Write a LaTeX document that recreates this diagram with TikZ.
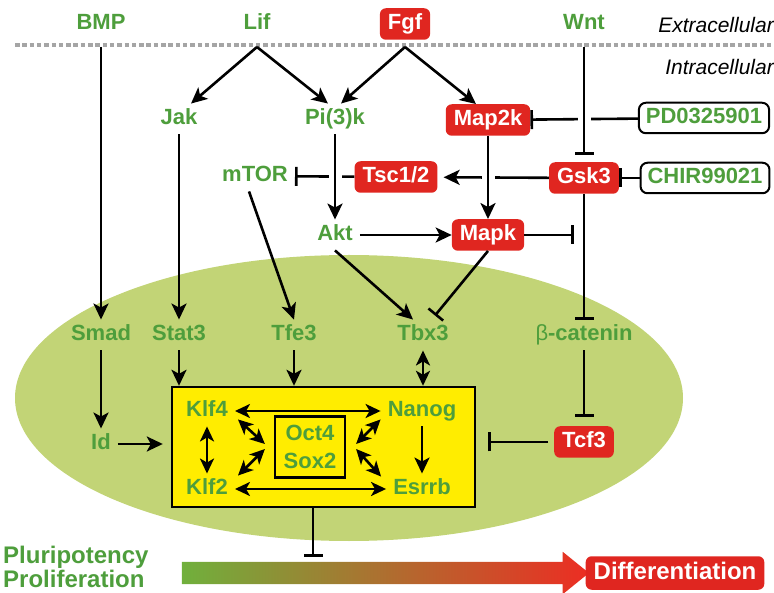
\documentclass[tikz,border=0pt]{standalone}
\usepackage{fontspec}
\setmainfont{Liberation Sans}
\usetikzlibrary{arrows.meta,shapes.arrows}

\definecolor{txtgreen}{RGB}{78,158,60}
\definecolor{boxred}{RGB}{224,38,32}
\definecolor{cellgreen}{RGB}{194,212,118}
\definecolor{coreyellow}{RGB}{255,237,0}
\definecolor{memgray}{RGB}{165,165,165}

\tikzset{
  lbl/.style={font=\fontsize{22}{26}\selectfont\bfseries, text height=16pt, text depth=4.5pt, inner ysep=5pt, inner xsep=7pt},
  gene/.style={lbl, text=txtgreen},
  redbox/.style={lbl, fill=boxred, text=white, rounded corners=6pt, inner xsep=8pt, inner ysep=5.5pt},
  drug/.style={lbl, text=txtgreen, draw=black, line width=2pt, rounded corners=7pt, inner ysep=5pt},
  side/.style={anchor=east, inner sep=0pt, font=\fontsize{21}{24}\selectfont\itshape},
  act/.style={-{Stealth[length=16pt,width=15pt,inset=4pt]}, line width=2.6pt},
  inh/.style={-{Bar[width=19pt]}, line width=2.6pt},
  both/.style={{Stealth[length=15pt,width=14pt,inset=4pt]}-{Stealth[length=15pt,width=14pt,inset=4pt]}, line width=2.6pt},
  over/.style={preaction={draw=white, line width=13pt, -}},
}

\begin{document}
\begin{tikzpicture}[x=1pt,y=-1pt]
  \useasboundingbox (0,0) rectangle (774,593);

  % cell and membrane
  \fill[cellgreen] (349,398) ellipse [x radius=334, y radius=143];
  \draw[memgray, line width=4.5pt, dash pattern=on 4.5pt off 2.8pt] (15,45) -- (774,45);
  \node[side] (extra) at (774,25) {Extracellular};
  \node[side] (intra) at (774,67) {Intracellular};

  % ligands
  \node[gene] (BMP) at (101,24) {BMP};
  \node[gene] (Lif) at (257,24) {Lif};
  \node[redbox] (Fgf) at (405,24) {Fgf};
  \node[gene] (Wnt) at (584,24) {Wnt};
  \coordinate (bmpm) at (101,47);
  \coordinate (lifm) at (257,47);
  \coordinate (fgfm) at (405,47);
  \coordinate (wntm) at (584,47);

  % signalling
  \node[gene] (Jak) at (179,119) {Jak};
  \node[gene] (Pi3k) at (335,119) {Pi(3)k};
  \node[redbox] (Map2k) at (488,120) {Map2k};
  \node[drug] (PD) at (704,118) {PD0325901};
  \node[gene] (mTOR) at (255,176) {mTOR};
  \node[redbox] (Tsc) at (396,177) {Tsc1/2};
  \node[redbox] (Gsk3) at (584,178) {Gsk3};
  \node[drug] (CHIR) at (705,178) {CHIR99021};
  \node[gene] (Akt) at (335,235) {Akt};
  \node[redbox] (Mapk) at (488,235) {Mapk};
  \coordinate (mapkstop) at (574,235);

  % transcription factors
  \node[gene] (Smad) at (101,335) {Smad};
  \node[gene] (Stat3) at (179,335) {Stat3};
  \node[gene] (Tfe3) at (294,335) {Tfe3};
  \node[gene] (Tbx3) at (423,335) {Tbx3};
  \node[gene] (bcat) at (584,335) {{\mdseries β}-catenin};
  \node[gene] (Id) at (101,444) {Id};
  \node[redbox] (Tcf3) at (584,442) {Tcf3};

  % core network
  \node[draw=black, fill=coreyellow, line width=2.4pt, minimum width=303pt, minimum height=120pt] (core) at (323.5,447) {};
  \node[draw=black, line width=2.2pt, minimum width=70pt, minimum height=61pt, align=center, text=txtgreen,
        font=\fontsize{22}{28}\selectfont\bfseries, inner sep=0pt] (OS) at (310,447) {Oct4\\Sox2};
  \node[gene] (Klf4) at (207,411) {Klf4};
  \node[gene] (Nanog) at (422,411) {Nanog};
  \node[gene] (Klf2) at (207,489) {Klf2};
  \node[gene] (Esrrb) at (422,489) {Esrrb};

  % fate
  \node[single arrow, minimum height=407pt, inner ysep=11pt, single arrow head extend=10pt,
        single arrow tip angle=78, left color={rgb,255:red,112;green,176;blue,60},
        middle color={rgb,255:red,205;green,135;blue,45}, right color={rgb,255:red,236;green,45;blue,35}] (grad) at (378.5,573) {};
  \node[redbox, font=\fontsize{24}{28}\selectfont\bfseries, text height=17.5pt, text depth=5pt] (Diff) at (675,573) {Differentiation};
  \node[anchor=west, align=left, inner sep=0pt, text=txtgreen, font=\fontsize{24}{21}\selectfont\bfseries] (Plu) at (3,567) {Pluripotency\\Proliferation};
  \coordinate (halt) at (313,557);

  % connectors
  \draw[act] (bmpm) -- (Smad);
  \draw[act] (lifm) -- ([xshift=12pt]Jak.north);
  \draw[act] (lifm) -- ([xshift=-7pt]Pi3k.north);
  \draw[act] (fgfm) -- ([xshift=6pt]Pi3k.north);
  \draw[act] (fgfm) -- ([xshift=-12pt]Map2k.north);
  \draw[inh] (PD) -- (Map2k);
  \draw[inh, over, shorten >=7pt] (wntm) -- (Gsk3);
  \draw[inh] (CHIR) -- (Gsk3);
  \draw[inh] (Tsc) -- (mTOR);
  \draw[act, shorten >=6pt] (Gsk3) -- (Tsc);
  \draw[act, over] (Pi3k) -- (Akt);
  \draw[act, over] (Map2k) -- (Mapk);
  \draw[act] (Akt) -- (Mapk);
  \draw[inh] (Mapk) -- (mapkstop);
  \draw[act] (Jak) -- (Stat3);
  \draw[act] ([xshift=-6pt]mTOR.south) -- (Tfe3.north);
  \draw[act] (Akt.south) -- ([xshift=-10pt]Tbx3.north);
  \draw[inh] (Mapk.south) -- ([xshift=12pt,yshift=4pt]Tbx3.north);
  \draw[inh] (Gsk3) -- (bcat);
  \draw[inh, shorten >=9pt] (bcat) -- (Tcf3);
  \draw[act] (Smad) -- (Id);
  \draw[act, shorten >=8pt] (Id) -- (core.west |- Id);
  \draw[act] (Stat3) -- (core.north -| Stat3);
  \draw[act] (Tfe3) -- (core.north -| Tfe3);
  \draw[both] (Tbx3) -- (core.north -| Tbx3);
  \draw[inh, shorten <=6pt, shorten >=12pt] (Tcf3) -- (core.east |- Tcf3);
  \draw[inh] (core.south -| halt) -- (halt);

  % inside the core
  \draw[both] (Klf4) -- (Nanog);
  \draw[both] (Klf2) -- (Esrrb);
  \draw[both] (Klf4) -- (Klf2);
  \draw[act] (Nanog) -- (Esrrb);
  \draw[both] ([xshift=3pt,yshift=7pt]Klf4.south east) -- ([xshift=-9pt,yshift=3pt]OS.west);
  \draw[both] ([xshift=3pt,yshift=-2pt]Klf2.north east) -- ([xshift=-9pt,yshift=-2pt]OS.west);
  \draw[both] ([yshift=7pt]Nanog.south west) -- ([xshift=10pt,yshift=3pt]OS.east);
  \draw[both] ([xshift=-5pt,yshift=-3pt]Esrrb.north west) -- ([xshift=10pt,yshift=-2pt]OS.east);
\end{tikzpicture}
\end{document}
